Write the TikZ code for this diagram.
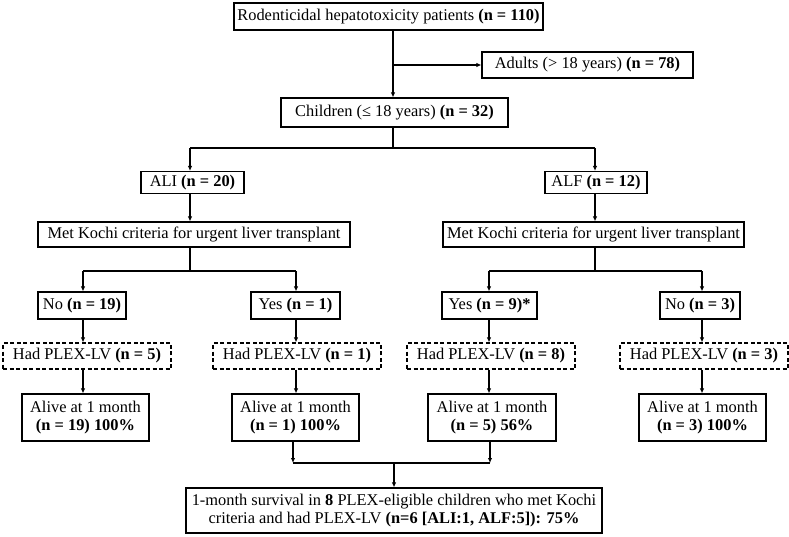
\documentclass[tikz,border=0pt]{standalone}
\usepackage{fontspec}
\setmainfont{Liberation Serif}
\usetikzlibrary{arrows.meta}
\tikzset{
  box/.style={draw=black, line width=1.2pt, inner sep=0pt, align=center,
    font=\fontsize{16.4}{18.5}\selectfont, fill=white},
  dbox/.style={box, dash pattern=on 4pt off 2.5pt},
  arr/.style={line width=1.1pt, -{Latex[length=5pt,width=4.5pt]}},
  ln/.style={line width=1.1pt}
}
\begin{document}
\begin{tikzpicture}[x=1pt,y=-1pt]
\useasboundingbox (0,0) rectangle (789,536);
% nodes
\node[box, minimum width=309pt, minimum height=27pt] (top) at (388.5,16.5) {Rodenticidal hepatotoxicity patients \textbf{(n = 110)}};
\node[box, minimum width=211pt, minimum height=26pt] (adults) at (587.5,65) {Adults (> 18 years) \textbf{(n = 78)}};
\node[box, minimum width=227pt, minimum height=29pt] (child) at (394.5,112.5) {Children (≤ 18 years) \textbf{(n = 32)}};
\node[box, minimum width=103pt, minimum height=22pt] (ali) at (192.5,182.5) {ALI \textbf{(n = 20)}};
\node[box, minimum width=102pt, minimum height=22pt] (alf) at (596,182.5) {ALF \textbf{(n = 12)}};
\node[box, minimum width=312pt, minimum height=25pt] (kochiL) at (194,234.5) {Met Kochi criteria for urgent liver transplant};
\node[box, minimum width=301pt, minimum height=25pt] (kochiR) at (593.5,234.5) {Met Kochi criteria for urgent liver transplant};
\node[box, minimum width=88pt, minimum height=27pt] (no19) at (82,305.5) {No \textbf{(n = 19)}};
\node[box, minimum width=89pt, minimum height=27pt] (yes1) at (295.5,305.5) {Yes \textbf{(n = 1)}};
\node[box, minimum width=95pt, minimum height=27pt] (yes9) at (489.5,305.5) {Yes \textbf{(n = 9)*}};
\node[box, minimum width=80pt, minimum height=27pt] (no3) at (700,305.5) {No \textbf{(n = 3)}};
\node[dbox, minimum width=168pt, minimum height=26pt] (plex5) at (87,356) {Had PLEX-LV \textbf{(n = 5)}};
\node[dbox, minimum width=168pt, minimum height=26pt] (plex1) at (297,356) {Had PLEX-LV \textbf{(n = 1)}};
\node[dbox, minimum width=168pt, minimum height=26pt] (plex8) at (491,356) {Had PLEX-LV \textbf{(n = 8)}};
\node[dbox, minimum width=168pt, minimum height=26pt] (plex3) at (704,356) {Had PLEX-LV \textbf{(n = 3)}};
\node[box, minimum width=127pt, minimum height=47pt] (alive19) at (85.5,417.5) {Alive at 1 month\\\textbf{(n = 19) 100\%}};
\node[box, minimum width=127pt, minimum height=47pt] (alive1) at (295.5,417.5) {Alive at 1 month\\\textbf{(n = 1) 100\%}};
\node[box, minimum width=128pt, minimum height=47pt] (alive5) at (492,417.5) {Alive at 1 month\\\textbf{(n = 5) 56\%}};
\node[box, minimum width=127pt, minimum height=47pt] (alive3) at (702.5,417.5) {Alive at 1 month\\\textbf{(n = 3) 100\%}};
\node[box, minimum width=416pt, minimum height=45pt] (final) at (394,510.5) {1-month survival in \textbf{8} PLEX-eligible children who met Kochi\\criteria and had PLEX-LV \textbf{(n=6 [ALI:1, ALF:5]): 75\%}};
% split levels
\coordinate (y1) at (0,148);
\coordinate (y2) at (0,271);
\coordinate (y3) at (0,463);
\coordinate (tx) at (393,0);
\coordinate (lx) at (190,0);
\coordinate (rx) at (595,0);
% connectors
\draw[arr] (tx |- top.south) -- (tx |- child.north);
\draw[arr] (tx |- adults.west) -- (adults.west);
\draw[ln] (tx |- child.south) -- (tx |- y1);
\draw[ln] (lx |- y1) -- (rx |- y1);
\draw[arr] (lx |- y1) -- (lx |- ali.north);
\draw[arr] (rx |- y1) -- (rx |- alf.north);
\draw[arr] (lx |- ali.south) -- (lx |- kochiL.north);
\draw[arr] (rx |- alf.south) -- (rx |- kochiR.north);
\draw[ln] (lx |- kochiL.south) -- (lx |- y2);
\draw[ln] (rx |- kochiR.south) -- (rx |- y2);
\coordinate (c1) at (83,0);
\coordinate (c2) at (296,0);
\coordinate (c3) at (489,0);
\coordinate (c4) at (702,0);
\draw[ln] (c1 |- y2) -- (c2 |- y2);
\draw[ln] (c3 |- y2) -- (c4 |- y2);
\draw[arr] (c1 |- y2) -- (c1 |- no19.north);
\draw[arr] (c2 |- y2) -- (c2 |- yes1.north);
\draw[arr] (c3 |- y2) -- (c3 |- yes9.north);
\draw[arr] (c4 |- y2) -- (c4 |- no3.north);
\draw[arr] (c1 |- no19.south) -- (c1 |- plex5.north);
\draw[arr] (c2 |- yes1.south) -- (c2 |- plex1.north);
\draw[arr] (c3 |- yes9.south) -- (c3 |- plex8.north);
\draw[arr] (c4 |- no3.south) -- (c4 |- plex3.north);
\draw[arr] (c1 |- plex5.south) -- (c1 |- alive19.north);
\draw[arr] (c2 |- plex1.south) -- (c2 |- alive1.north);
\draw[arr] (c3 |- plex8.south) -- (c3 |- alive5.north);
\draw[arr] (c4 |- plex3.south) -- (c4 |- alive3.north);
\coordinate (d1) at (293,0);
\coordinate (d2) at (490,0);
\draw[arr] (d1 |- alive1.south) -- (d1 |- y3);
\draw[arr] (d2 |- alive5.south) -- (d2 |- y3);
\draw[ln] (d1 |- y3) -- (d2 |- y3);
\draw[arr] (final.north |- y3) -- (final.north);
\end{tikzpicture}
\end{document}
